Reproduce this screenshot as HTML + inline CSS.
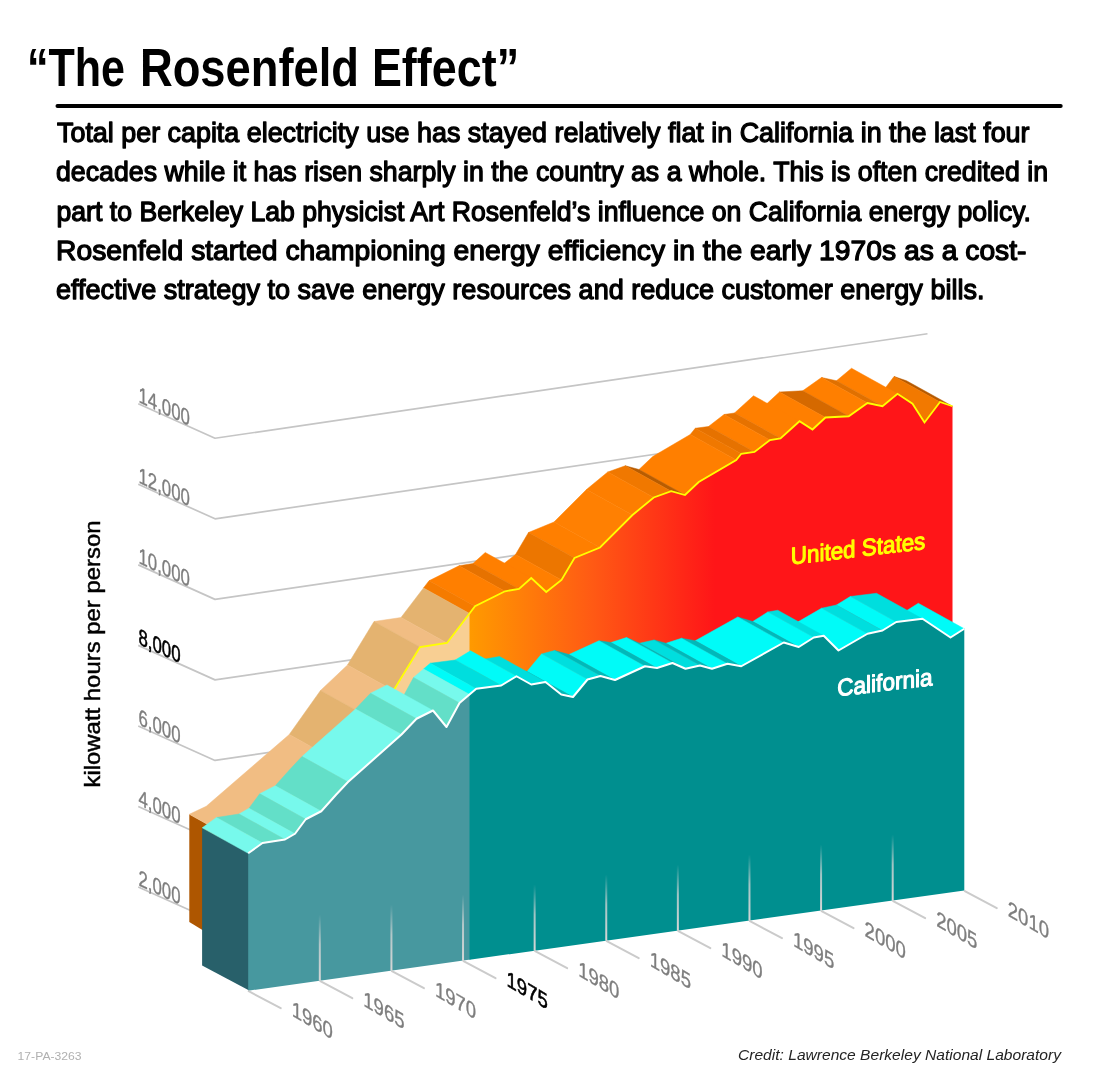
<!DOCTYPE html>
<html lang="en"><head><meta charset="utf-8"><title>The Rosenfeld Effect</title>
<style>
html,body{margin:0;padding:0;background:#fff}
body{width:1100px;height:1080px;overflow:hidden}
svg{display:block;font-family:"Liberation Sans",sans-serif}
</style></head><body>
<svg width="1100" height="1080" viewBox="0 0 1100 1080">
<defs>
<linearGradient id="gus" gradientUnits="userSpaceOnUse" x1="469.5" y1="0" x2="715" y2="0">
<stop offset="0" stop-color="#ff9a00"/><stop offset="0.5" stop-color="#ff5a14"/><stop offset="1" stop-color="#ff1518"/>
</linearGradient>
<linearGradient id="gtick" x1="0" y1="1" x2="0" y2="0">
<stop offset="0" stop-color="#d6d6d6" stop-opacity="1"/><stop offset="0.55" stop-color="#d6d6d6" stop-opacity="0.75"/><stop offset="1" stop-color="#d6d6d6" stop-opacity="0"/>
</linearGradient>
</defs>
<rect width="1100" height="1080" fill="#fff"/>
<g fill="none" stroke="#c5c5c5" stroke-width="1.7" stroke-linejoin="round">
<polyline points="138.25,403.75 215,438.25 927.5,333.73"/>
<polyline points="138.25,484.30 215,518.80 927.5,414.28"/>
<polyline points="138.25,564.85 215,599.35 927.5,494.83"/>
<polyline points="138.25,645.40 215,679.90 927.5,575.38"/>
<polyline points="138.25,725.95 215,760.45 927.5,655.93"/>
<polyline points="138.25,806.50 215,841.00 927.5,736.48"/>
<polyline points="138.25,887.05 215,921.55 927.5,817.03"/>
</g>
<polygon points="189.3,814.3 235.3,840 235.3,950 189.3,922" fill="#ae5600"/>
<polygon points="940.00,402.00 952.50,406.25 906.50,380.75 894.00,376.50" fill="#b65a00" stroke="#b65a00" stroke-width="0.5"/>
<polygon points="924.50,422.50 940.00,402.00 894.00,376.50 878.50,397.00" fill="#f27900" stroke="#f27900" stroke-width="0.5"/>
<polygon points="882.50,406.25 897.50,393.75 851.50,368.25 836.50,380.75" fill="#ff7f00" stroke="#ff7f00" stroke-width="0.5"/>
<polygon points="867.50,403.00 882.50,406.25 836.50,380.75 821.50,377.50" fill="#e07000" stroke="#e07000" stroke-width="0.5"/>
<polygon points="848.75,416.25 867.50,403.00 821.50,377.50 802.75,390.75" fill="#ff7f00" stroke="#ff7f00" stroke-width="0.5"/>
<polygon points="825.50,417.50 848.75,416.25 802.75,390.75 779.50,392.00" fill="#d56900" stroke="#d56900" stroke-width="0.5"/>
<polygon points="812.50,429.50 825.50,417.50 779.50,392.00 766.50,404.00" fill="#ff7f00" stroke="#ff7f00" stroke-width="0.5"/>
<polygon points="780.50,438.50 799.50,421.25 753.50,395.75 734.50,413.00" fill="#ff7f00" stroke="#ff7f00" stroke-width="0.5"/>
<polygon points="770.00,440.00 780.50,438.50 734.50,413.00 724.00,414.50" fill="#e67200" stroke="#e67200" stroke-width="0.5"/>
<polygon points="754.50,452.00 770.00,440.00 724.00,414.50 708.50,426.50" fill="#ff7f00" stroke="#ff7f00" stroke-width="0.5"/>
<polygon points="741.25,453.75 754.50,452.00 708.50,426.50 695.25,428.25" fill="#e67200" stroke="#e67200" stroke-width="0.5"/>
<polygon points="736.25,460.00 741.25,453.75 695.25,428.25 690.25,434.50" fill="#f07800" stroke="#f07800" stroke-width="0.5"/>
<polygon points="685.00,495.00 698.75,482.00 736.25,460.00 690.25,434.50 652.75,456.50 639.00,469.50" fill="#ff7f00" stroke="#ff7f00" stroke-width="0.5"/>
<polygon points="671.25,491.25 685.00,495.00 639.00,469.50 625.25,465.75" fill="#b85c00" stroke="#b85c00" stroke-width="0.5"/>
<polygon points="653.75,497.50 671.25,491.25 625.25,465.75 607.75,472.00" fill="#f07800" stroke="#f07800" stroke-width="0.5"/>
<polygon points="632.50,515.00 653.75,497.50 607.75,472.00 586.50,489.50" fill="#fd7e00" stroke="#fd7e00" stroke-width="0.5"/>
<polygon points="600.00,547.50 632.50,515.00 586.50,489.50 554.00,522.00" fill="#ff8002" stroke="#ff8002" stroke-width="0.5"/>
<polygon points="574.50,558.00 600.00,547.50 554.00,522.00 528.50,532.50" fill="#ff7f00" stroke="#ff7f00" stroke-width="0.5"/>
<polygon points="561.50,580.00 574.50,558.00 528.50,532.50 515.50,554.50" fill="#ec7600" stroke="#ec7600" stroke-width="0.5"/>
<polygon points="546.25,592.00 561.50,580.00 515.50,554.50 500.25,566.50" fill="#ff7f00" stroke="#ff7f00" stroke-width="0.5"/>
<polygon points="519.00,589.00 531.25,578.00 485.25,552.50 473.00,563.50" fill="#ff7f00" stroke="#ff7f00" stroke-width="0.5"/>
<polygon points="505.00,591.25 519.00,589.00 473.00,563.50 459.00,565.75" fill="#e67200" stroke="#e67200" stroke-width="0.5"/>
<polygon points="475.00,606.25 505.00,591.25 459.00,565.75 429.00,580.75" fill="#ff7f00" stroke="#ff7f00" stroke-width="0.5"/>
<polygon points="469.50,613.47 475.00,606.25 429.00,580.75 423.50,587.97" fill="#f57b00" stroke="#f57b00" stroke-width="0.5"/>
<polygon points="447.00,643.00 469.50,613.47 423.50,587.97 401.00,617.50" fill="#e4b370" stroke="#e4b370" stroke-width="0.5"/>
<polygon points="420.00,647.00 447.00,643.00 401.00,617.50 374.00,621.50" fill="#f1bd83" stroke="#f1bd83" stroke-width="0.5"/>
<polygon points="393.50,690.50 420.00,647.00 374.00,621.50 347.50,665.00" fill="#e4b370" stroke="#e4b370" stroke-width="0.5"/>
<polygon points="366.50,716.00 393.50,690.50 347.50,665.00 320.50,690.50" fill="#f1bd83" stroke="#f1bd83" stroke-width="0.5"/>
<polygon points="335.25,760.00 366.50,716.00 320.50,690.50 289.25,734.50" fill="#e4b370" stroke="#e4b370" stroke-width="0.5"/>
<polygon points="235.30,839.80 252.25,831.75 306.00,785.30 335.25,760.00 289.25,734.50 260.00,759.80 206.25,806.25 189.30,814.30" fill="#f1bd83" stroke="#f1bd83" stroke-width="0.5"/>
<polygon points="235.30,839.80 252.25,831.75 306.00,785.30 335.25,760.00 366.50,716.00 393.50,690.50 420.00,647.00 447.00,643.00 469.50,613.47 470.50,612.47 470.50,900.00 235.25,950.00" fill="#f8cf93"/>
<polygon points="469.50,613.47 475.00,606.25 505.00,591.25 519.00,589.00 531.25,578.00 546.25,592.00 561.50,580.00 574.50,558.00 600.00,547.50 632.50,515.00 653.75,497.50 671.25,491.25 685.00,495.00 698.75,482.00 736.25,460.00 741.25,453.75 754.50,452.00 770.00,440.00 780.50,438.50 799.50,421.25 812.50,429.50 825.50,417.50 848.75,416.25 867.50,403.00 882.50,406.25 897.50,393.75 912.50,403.75 924.50,422.50 940.00,402.00 952.50,406.25 952.50,880.00 469.50,900.00" fill="url(#gus)"/>
<polyline points="235.30,839.80 252.25,831.75 306.00,785.30 335.25,760.00 366.50,716.00 393.50,690.50 420.00,647.00 447.00,643.00 469.50,613.47 475.00,606.25 505.00,591.25 519.00,589.00 531.25,578.00 546.25,592.00 561.50,580.00 574.50,558.00 600.00,547.50 632.50,515.00 653.75,497.50 671.25,491.25 685.00,495.00 698.75,482.00 736.25,460.00 741.25,453.75 754.50,452.00 770.00,440.00 780.50,438.50 799.50,421.25 812.50,429.50 825.50,417.50 848.75,416.25 867.50,403.00 882.50,406.25 897.50,393.75 912.50,403.75 924.50,422.50 940.00,402.00 952.50,406.25" fill="none" stroke="#ffff00" stroke-width="1.8" stroke-linejoin="miter"/>
<polygon points="202.1,828.0 249.2,853.1 249.2,990.6 202.1,965.5" fill="#28606a"/>
<polygon points="950.50,637.50 964.30,628.75 918.30,603.25 904.50,612.00" fill="#00fbf8" stroke="#00fbf8" stroke-width="0.5"/>
<polygon points="896.25,622.00 922.50,618.75 876.50,593.25 850.25,596.50" fill="#00dede" stroke="#00dede" stroke-width="0.5"/>
<polygon points="882.50,630.50 896.25,622.00 850.25,596.50 836.50,605.00" fill="#00fbf8" stroke="#00fbf8" stroke-width="0.5"/>
<polygon points="867.50,633.75 882.50,630.50 836.50,605.00 821.50,608.25" fill="#00dede" stroke="#00dede" stroke-width="0.5"/>
<polygon points="838.50,650.50 867.50,633.75 821.50,608.25 792.50,625.00" fill="#00fbf8" stroke="#00fbf8" stroke-width="0.5"/>
<polygon points="813.75,637.50 823.75,635.75 777.75,610.25 767.75,612.00" fill="#00dede" stroke="#00dede" stroke-width="0.5"/>
<polygon points="798.75,647.00 813.75,637.50 767.75,612.00 752.75,621.50" fill="#00fbf8" stroke="#00fbf8" stroke-width="0.5"/>
<polygon points="783.75,642.50 798.75,647.00 752.75,621.50 737.75,617.00" fill="#00b9ba" stroke="#00b9ba" stroke-width="0.5"/>
<polygon points="741.25,666.25 783.75,642.50 737.75,617.00 695.25,640.75" fill="#00fbf8" stroke="#00fbf8" stroke-width="0.5"/>
<polygon points="727.50,663.75 741.25,666.25 695.25,640.75 681.50,638.25" fill="#00b9ba" stroke="#00b9ba" stroke-width="0.5"/>
<polygon points="712.00,668.75 727.50,663.75 681.50,638.25 666.00,643.25" fill="#00fbf8" stroke="#00fbf8" stroke-width="0.5"/>
<polygon points="700.00,665.50 712.00,668.75 666.00,643.25 654.00,640.00" fill="#00b9ba" stroke="#00b9ba" stroke-width="0.5"/>
<polygon points="685.50,668.75 700.00,665.50 654.00,640.00 639.50,643.25" fill="#00dede" stroke="#00dede" stroke-width="0.5"/>
<polygon points="672.50,663.00 685.50,668.75 639.50,643.25 626.50,637.50" fill="#00b9ba" stroke="#00b9ba" stroke-width="0.5"/>
<polygon points="657.00,668.00 672.50,663.00 626.50,637.50 611.00,642.50" fill="#00fbf8" stroke="#00fbf8" stroke-width="0.5"/>
<polygon points="645.00,666.25 657.00,668.00 611.00,642.50 599.00,640.75" fill="#00b9ba" stroke="#00b9ba" stroke-width="0.5"/>
<polygon points="615.00,680.00 645.00,666.25 599.00,640.75 569.00,654.50" fill="#00fbf8" stroke="#00fbf8" stroke-width="0.5"/>
<polygon points="600.50,676.00 615.00,680.00 569.00,654.50 554.50,650.50" fill="#00b9ba" stroke="#00b9ba" stroke-width="0.5"/>
<polygon points="587.50,679.50 600.50,676.00 554.50,650.50 541.50,654.00" fill="#00dede" stroke="#00dede" stroke-width="0.5"/>
<polygon points="573.00,697.00 587.50,679.50 541.50,654.00 527.00,671.50" fill="#00fbf8" stroke="#00fbf8" stroke-width="0.5"/>
<polygon points="561.25,694.50 573.00,697.00 527.00,671.50 515.25,669.00" fill="#00b9ba" stroke="#00b9ba" stroke-width="0.5"/>
<polygon points="531.25,684.50 545.50,682.00 499.50,656.50 485.25,659.00" fill="#00dede" stroke="#00dede" stroke-width="0.5"/>
<polygon points="501.25,685.50 516.50,676.25 470.50,650.75 455.25,660.00" fill="#00fbf8" stroke="#00fbf8" stroke-width="0.5"/>
<polygon points="476.25,688.75 501.25,685.50 455.25,660.00 430.25,663.25" fill="#00dede" stroke="#00dede" stroke-width="0.5"/>
<polygon points="469.50,694.49 476.25,688.75 430.25,663.25 423.50,668.99" fill="#00fbf8" stroke="#00fbf8" stroke-width="0.5"/>
<polygon points="459.50,703.00 469.50,694.49 423.50,668.99 413.50,677.50" fill="#77f9ec" stroke="#77f9ec" stroke-width="0.5"/>
<polygon points="446.50,727.00 459.50,703.00 413.50,677.50 400.50,701.50" fill="#63dfc8" stroke="#63dfc8" stroke-width="0.5"/>
<polygon points="416.50,718.75 433.00,710.50 387.00,685.00 370.50,693.25" fill="#77f9ec" stroke="#77f9ec" stroke-width="0.5"/>
<polygon points="401.50,734.50 416.50,718.75 370.50,693.25 355.50,709.00" fill="#63dfc8" stroke="#63dfc8" stroke-width="0.5"/>
<polygon points="348.00,782.00 401.50,734.50 355.50,709.00 302.00,756.50" fill="#77f9ec" stroke="#77f9ec" stroke-width="0.5"/>
<polygon points="321.25,811.25 336.25,794.50 348.00,782.00 302.00,756.50 290.25,769.00 275.25,785.75" fill="#63dfc8" stroke="#63dfc8" stroke-width="0.5"/>
<polygon points="305.75,819.25 321.25,811.25 275.25,785.75 259.75,793.75" fill="#77f9ec" stroke="#77f9ec" stroke-width="0.5"/>
<polygon points="295.00,833.75 305.75,819.25 259.75,793.75 249.00,808.25" fill="#63dfc8" stroke="#63dfc8" stroke-width="0.5"/>
<polygon points="285.00,839.50 295.00,833.75 249.00,808.25 239.00,814.00" fill="#77f9ec" stroke="#77f9ec" stroke-width="0.5"/>
<polygon points="262.50,843.00 285.00,839.50 239.00,814.00 216.50,817.50" fill="#63dfc8" stroke="#63dfc8" stroke-width="0.5"/>
<polygon points="248.20,853.30 262.50,843.00 216.50,817.50 202.20,827.80" fill="#77f9ec" stroke="#77f9ec" stroke-width="0.5"/>
<polygon points="248.20,853.30 262.50,843.00 285.00,839.50 295.00,833.75 305.75,819.25 321.25,811.25 336.25,794.50 348.00,782.00 401.50,734.50 416.50,718.75 433.00,710.50 446.50,727.00 459.50,703.00 469.50,694.49 470.50,693.69 470.50,959.62 248.20,990.70" fill="#47989f"/>
<polygon points="469.50,694.49 476.25,688.75 501.25,685.50 516.50,676.25 531.25,684.50 545.50,682.00 561.25,694.50 573.00,697.00 587.50,679.50 600.50,676.00 615.00,680.00 645.00,666.25 657.00,668.00 672.50,663.00 685.50,668.75 700.00,665.50 712.00,668.75 727.50,663.75 741.25,666.25 783.75,642.50 798.75,647.00 813.75,637.50 823.75,635.75 838.50,650.50 867.50,633.75 882.50,630.50 896.25,622.00 922.50,618.75 950.50,637.50 964.30,628.75 964.30,890.59 469.50,959.76" fill="#008f8f"/>
<polyline points="248.20,853.30 262.50,843.00 285.00,839.50 295.00,833.75 305.75,819.25 321.25,811.25 336.25,794.50 348.00,782.00 401.50,734.50 416.50,718.75 433.00,710.50 446.50,727.00 459.50,703.00 469.50,694.49 476.25,688.75 501.25,685.50 516.50,676.25 531.25,684.50 545.50,682.00 561.25,694.50 573.00,697.00 587.50,679.50 600.50,676.00 615.00,680.00 645.00,666.25 657.00,668.00 672.50,663.00 685.50,668.75 700.00,665.50 712.00,668.75 727.50,663.75 741.25,666.25 783.75,642.50 798.75,647.00 813.75,637.50 823.75,635.75 838.50,650.50 867.50,633.75 882.50,630.50 896.25,622.00 922.50,618.75 950.50,637.50 964.30,628.75" fill="none" stroke="#ffffff" stroke-width="2" stroke-linejoin="round"/>
<g stroke="#cbcbcb" stroke-width="2" stroke-linecap="round">
<line x1="248.70" y1="991.20" x2="280.70" y2="1008.20"/>
<line x1="320.31" y1="981.19" x2="352.31" y2="998.19"/>
<line x1="391.92" y1="971.18" x2="423.92" y2="988.18"/>
<line x1="463.53" y1="961.17" x2="495.53" y2="978.17"/>
<line x1="535.14" y1="951.16" x2="567.14" y2="968.16"/>
<line x1="606.75" y1="941.14" x2="638.75" y2="958.14"/>
<line x1="678.36" y1="931.13" x2="710.36" y2="948.13"/>
<line x1="749.97" y1="921.12" x2="781.97" y2="938.12"/>
<line x1="821.58" y1="911.11" x2="853.58" y2="928.11"/>
<line x1="893.19" y1="901.10" x2="925.19" y2="918.10"/>
<line x1="964.80" y1="891.09" x2="996.80" y2="908.09"/>
</g>
<rect x="318.81" y="914.69" width="2" height="66" fill="url(#gtick)"/>
<rect x="390.42" y="904.68" width="2" height="66" fill="url(#gtick)"/>
<rect x="462.03" y="894.67" width="2" height="66" fill="url(#gtick)"/>
<rect x="533.64" y="884.66" width="2" height="66" fill="url(#gtick)"/>
<rect x="605.25" y="874.64" width="2" height="66" fill="url(#gtick)"/>
<rect x="676.86" y="864.63" width="2" height="66" fill="url(#gtick)"/>
<rect x="748.47" y="854.62" width="2" height="66" fill="url(#gtick)"/>
<rect x="820.08" y="844.61" width="2" height="66" fill="url(#gtick)"/>
<rect x="891.69" y="834.60" width="2" height="66" fill="url(#gtick)"/>
<text transform="matrix(0.843 0.497 0 1 291.70 1015.50)" font-size="22" fill="#7e7e7e" stroke="#7e7e7e" stroke-width="0.35">1960</text>
<text transform="matrix(0.843 0.497 0 1 363.31 1005.49)" font-size="22" fill="#7e7e7e" stroke="#7e7e7e" stroke-width="0.35">1965</text>
<text transform="matrix(0.843 0.497 0 1 434.92 995.48)" font-size="22" fill="#7e7e7e" stroke="#7e7e7e" stroke-width="0.35">1970</text>
<text transform="matrix(0.843 0.497 0 1 506.53 985.47)" font-size="22" fill="#000" stroke="#000" stroke-width="0.6">1975</text>
<text transform="matrix(0.843 0.497 0 1 578.14 975.46)" font-size="22" fill="#7e7e7e" stroke="#7e7e7e" stroke-width="0.35">1980</text>
<text transform="matrix(0.843 0.497 0 1 649.75 965.44)" font-size="22" fill="#7e7e7e" stroke="#7e7e7e" stroke-width="0.35">1985</text>
<text transform="matrix(0.843 0.497 0 1 721.36 955.43)" font-size="22" fill="#7e7e7e" stroke="#7e7e7e" stroke-width="0.35">1990</text>
<text transform="matrix(0.843 0.497 0 1 792.97 945.42)" font-size="22" fill="#7e7e7e" stroke="#7e7e7e" stroke-width="0.35">1995</text>
<text transform="matrix(0.843 0.497 0 1 864.58 935.41)" font-size="22" fill="#7e7e7e" stroke="#7e7e7e" stroke-width="0.35">2000</text>
<text transform="matrix(0.843 0.497 0 1 936.19 925.40)" font-size="22" fill="#7e7e7e" stroke="#7e7e7e" stroke-width="0.35">2005</text>
<text transform="matrix(0.843 0.497 0 1 1007.80 915.39)" font-size="22" fill="#7e7e7e" stroke="#7e7e7e" stroke-width="0.35">2010</text>
<text transform="matrix(0.747 0.349 0 1 138.50 402.00)" font-size="22.5" fill="#7e7e7e" stroke="#7e7e7e" stroke-width="0.35">14,000</text>
<text transform="matrix(0.747 0.349 0 1 138.50 482.55)" font-size="22.5" fill="#7e7e7e" stroke="#7e7e7e" stroke-width="0.35">12,000</text>
<text transform="matrix(0.747 0.349 0 1 138.50 563.10)" font-size="22.5" fill="#7e7e7e" stroke="#7e7e7e" stroke-width="0.35">10,000</text>
<text transform="matrix(0.747 0.349 0 1 138.50 643.65)" font-size="22.5" fill="#000" stroke="#000" stroke-width="0.6">8,000</text>
<text transform="matrix(0.747 0.349 0 1 138.50 724.20)" font-size="22.5" fill="#7e7e7e" stroke="#7e7e7e" stroke-width="0.35">6,000</text>
<text transform="matrix(0.747 0.349 0 1 138.50 804.75)" font-size="22.5" fill="#7e7e7e" stroke="#7e7e7e" stroke-width="0.35">4,000</text>
<text transform="matrix(0.747 0.349 0 1 138.50 885.30)" font-size="22.5" fill="#7e7e7e" stroke="#7e7e7e" stroke-width="0.35">2,000</text>
<text transform="translate(99.7 787.5) rotate(-90)" font-size="22" fill="#000" stroke="#000" stroke-width="0.45" textLength="267" lengthAdjust="spacingAndGlyphs">kilowatt hours per person</text>
<text transform="matrix(1 -0.117 0 1 790.8 564.6)" font-size="24" fill="#ffff00" stroke="#ffff00" stroke-width="1.1" stroke-linejoin="round" textLength="134.5" lengthAdjust="spacingAndGlyphs">United States</text>
<text transform="matrix(1 -0.117 0 1 837.3 696.3)" font-size="24" fill="#ffffff" stroke="#ffffff" stroke-width="1.1" stroke-linejoin="round" textLength="95.2" lengthAdjust="spacingAndGlyphs">California</text>
<text x="26.90" y="85.5" font-size="53" font-weight="bold" fill="#000" textLength="98.10" lengthAdjust="spacingAndGlyphs">“The</text>
<text x="139.95" y="85.5" font-size="53" font-weight="bold" fill="#000" textLength="219.10" lengthAdjust="spacingAndGlyphs">Rosenfeld</text>
<text x="371.90" y="85.5" font-size="53" font-weight="bold" fill="#000" textLength="147.20" lengthAdjust="spacingAndGlyphs">Effect”</text>
<line x1="57.5" y1="105.9" x2="1060.7" y2="105.9" stroke="#000" stroke-width="4" stroke-linecap="round"/>
<text x="57.00" y="142.00" font-size="28.3" fill="#000" stroke="#000" stroke-width="1.3" stroke-linejoin="round" textLength="972.50" lengthAdjust="spacingAndGlyphs">Total per capita electricity use has stayed relatively flat in California in the last four</text>
<text x="56.00" y="181.30" font-size="28.3" fill="#000" stroke="#000" stroke-width="1.3" stroke-linejoin="round" textLength="992.00" lengthAdjust="spacingAndGlyphs">decades while it has risen sharply in the country as a whole. This is often credited in</text>
<text x="56.50" y="220.60" font-size="28.3" fill="#000" stroke="#000" stroke-width="1.3" stroke-linejoin="round" textLength="974.50" lengthAdjust="spacingAndGlyphs">part to Berkeley Lab physicist Art Rosenfeld’s influence on California energy policy.</text>
<text x="56.00" y="259.90" font-size="28.3" fill="#000" stroke="#000" stroke-width="1.3" stroke-linejoin="round" textLength="970.50" lengthAdjust="spacingAndGlyphs">Rosenfeld started championing energy efficiency in the early 1970s as a cost-</text>
<text x="56.00" y="299.20" font-size="28.3" fill="#000" stroke="#000" stroke-width="1.3" stroke-linejoin="round" textLength="928.50" lengthAdjust="spacingAndGlyphs">effective strategy to save energy resources and reduce customer energy bills.</text>
<text x="17.6" y="1060" font-size="11" fill="#b0b0b0" textLength="64" lengthAdjust="spacingAndGlyphs">17-PA-3263</text>
<text x="738" y="1060.4" font-size="14.5" font-style="italic" fill="#242424" textLength="323" lengthAdjust="spacingAndGlyphs">Credit: Lawrence Berkeley National Laboratory</text>
</svg>
</body></html>
